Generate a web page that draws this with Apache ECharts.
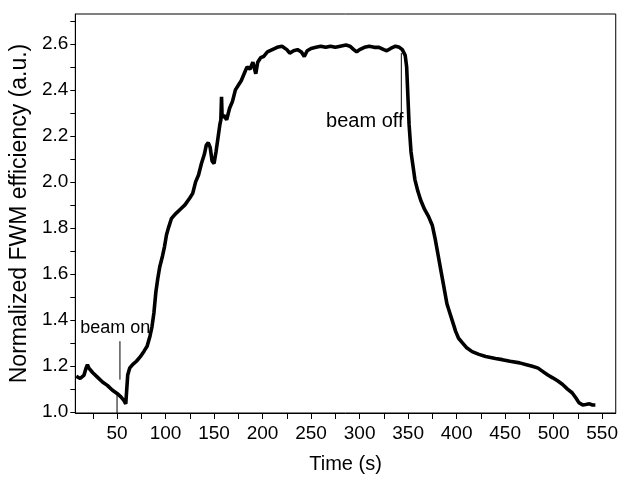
<!DOCTYPE html>
<html>
<head>
<meta charset="utf-8">
<script src="https://cdn.jsdelivr.net/npm/echarts@6/dist/echarts.min.js"></script>
<style>html,body{margin:0;padding:0;background:#fff}#c{width:621px;height:481px}</style>
</head>
<body>
<div id="c"></div>
<script>
const timeS = [8,10,12,14,16,18,19.5,21,25,30,35,40,45,50,54,57,59,60,61,63,66,70,74,78,81,84,86,88,90,92,94,97,99,101,103,106,110,115,120,125,128,131,134,137,140,142,144,146,148,150,152,154,156,157,157.7,158.3,160,163,166,169,172,175,178,181,184,187,190,193,195,198,201,205,210,215,220,225,228,232,236,240,243,246,250,255,260,265,270,275,280,286,290,294,297,300,305,310,315,320,325,328,332,337,341,344,347,348.5,349.5,351,353,355,357,360,363,367,371,375,378,381,384,387,390,393,396,399,402,406,410,416,423,430,440,447,455,465,472,478,484,489,494,499,504,509,514,519,523,526,530,533,537,540,543];
const fwm = [1.155,1.15,1.145,1.15,1.16,1.19,1.205,1.19,1.17,1.15,1.13,1.115,1.095,1.08,1.065,1.05,1.035,1.03,1.16,1.19,1.205,1.22,1.24,1.265,1.285,1.33,1.37,1.43,1.52,1.58,1.63,1.68,1.72,1.77,1.80,1.84,1.86,1.88,1.90,1.93,1.95,2.0,2.03,2.08,2.12,2.16,2.17,2.15,2.09,2.08,2.13,2.19,2.25,2.27,2.37,2.28,2.29,2.27,2.32,2.35,2.40,2.42,2.44,2.47,2.50,2.49,2.52,2.47,2.52,2.54,2.545,2.565,2.575,2.585,2.59,2.575,2.56,2.57,2.575,2.565,2.545,2.57,2.58,2.585,2.59,2.585,2.59,2.585,2.59,2.595,2.59,2.575,2.565,2.575,2.585,2.59,2.585,2.585,2.575,2.57,2.58,2.59,2.585,2.575,2.55,2.50,2.40,2.25,2.13,2.07,2.01,1.96,1.92,1.88,1.85,1.81,1.75,1.68,1.61,1.54,1.47,1.43,1.39,1.35,1.32,1.30,1.28,1.262,1.25,1.241,1.232,1.227,1.22,1.213,1.205,1.198,1.19,1.175,1.16,1.148,1.135,1.12,1.10,1.083,1.06,1.04,1.03,1.032,1.035,1.03,1.03];

const xTicks = [25,50,75,100,125,150,175,200,225,250,275,300,325,350,375,400,425,450,475,500,525,550];
const xLabels = [50,100,150,200,250,300,350,400,450,500,550];
const yTicks = [1.0,1.1,1.2,1.3,1.4,1.5,1.6,1.7,1.8,1.9,2.0,2.1,2.2,2.3,2.4,2.5,2.6,2.7];
const yLabels = [1.0,1.2,1.4,1.6,1.8,2.0,2.2,2.4,2.6];

const beamOnArrow = [[53,1.307],[53,1.14]];
const beamOnMark = [[50,0.995],[50,1.084]];
const beamOffArrow = [[343,2.56],[343,2.27]];
const beamOnText = [12,1.366];
const beamOffText = [265.5,2.262];

const FONT = 'Liberation Sans, Arial, sans-serif';
const chart = echarts.init(document.getElementById('c'));
chart.setOption({
  animation: false,
  backgroundColor: '#fff',
  grid: {left: 75, right: 4, top: 14, bottom: 68, show: true, borderColor: '#000', borderWidth: 1},
  xAxis: {
    type: 'value', min: 7, max: 564,
    name: 'Time (s)', nameLocation: 'middle', nameGap: 41,
    nameTextStyle: {fontFamily: FONT, fontSize: 20, color: '#000'},
    axisLine: {show: true, lineStyle: {color: '#000', width: 1}},
    axisTick: {show: true, inside: false, length: 6, customValues: xTicks, lineStyle: {color: '#000'}},
    axisLabel: {customValues: xLabels, margin: 11, fontFamily: FONT, fontSize: 19, color: '#000'},
    splitLine: {show: false}
  },
  yAxis: {
    type: 'value', min: 0.995, max: 2.73,
    name: 'Normalized FWM efficiency (a.u.)', nameLocation: 'middle', nameGap: 39,
    nameTextStyle: {fontFamily: FONT, fontSize: 23, color: '#000'},
    axisLine: {show: true, lineStyle: {color: '#000', width: 1}},
    axisTick: {show: true, inside: false, length: 5, customValues: yTicks, lineStyle: {color: '#000'}},
    axisLabel: {customValues: yLabels, margin: 7, fontFamily: FONT, fontSize: 19, color: '#000',
      formatter: v => v.toFixed(1)},
    splitLine: {show: false}
  },
  series: [
    {type: 'line', data: timeS.map((t, i) => [t, fwm[i]]), showSymbol: false, symbol: 'none',
      lineStyle: {color: '#000', width: 3.6}, z: 3},
    {type: 'line', data: beamOnArrow, symbol: 'none', lineStyle: {color: '#000', width: 1}},
    {type: 'line', data: beamOnMark, symbol: 'none', lineStyle: {color: '#000', width: 1}},
    {type: 'line', data: beamOffArrow, symbol: 'none', lineStyle: {color: '#000', width: 1}},
    {type: 'scatter', symbolSize: 0, data: [beamOnText], itemStyle: {opacity: 1, color: '#000'},
      label: {show: true, position: 'right', distance: 0, formatter: 'beam on',
        fontFamily: FONT, fontSize: 18, color: '#000', opacity: 1}},
    {type: 'scatter', symbolSize: 0, data: [beamOffText], itemStyle: {opacity: 1, color: '#000'},
      label: {show: true, position: 'right', distance: 0, formatter: 'beam off',
        fontFamily: FONT, fontSize: 20, color: '#000', opacity: 1}}
  ]
});
</script>
</body>
</html>
